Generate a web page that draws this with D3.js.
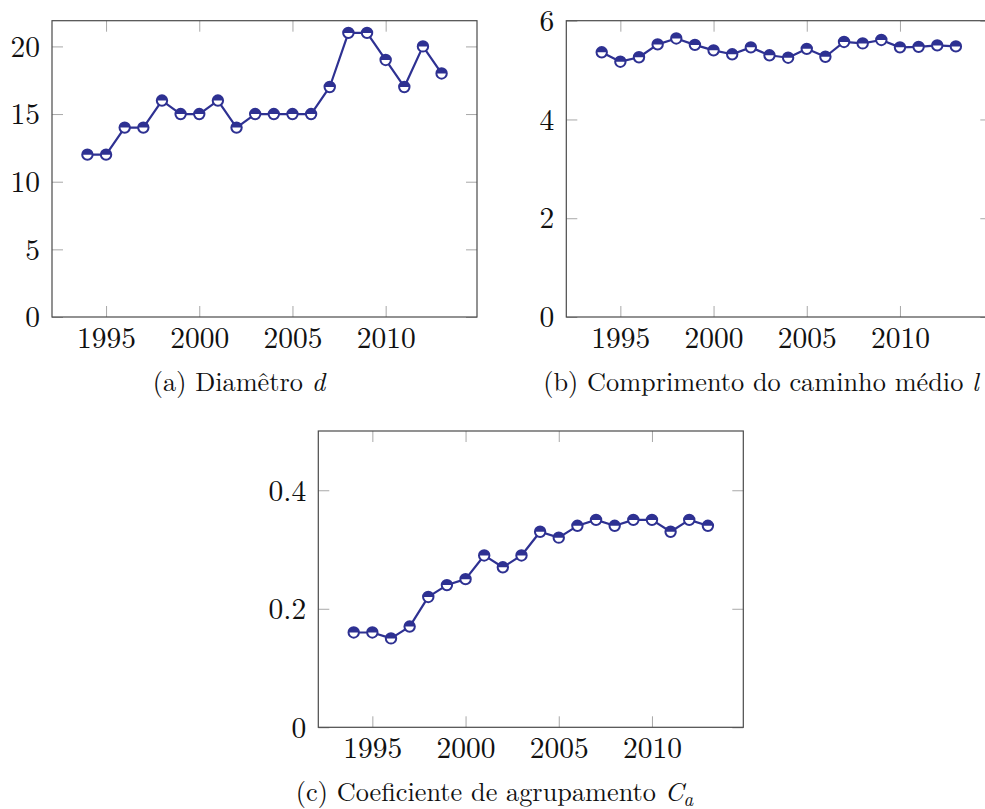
<!DOCTYPE html>
<html>
<head>
<meta charset="utf-8">
<script src="https://cdn.jsdelivr.net/npm/d3@7"></script>
<style>
  html, body { margin: 0; padding: 0; background: #fff; }
  svg { display: block; }
</style>
</head>
<body>
<svg id="chart" width="985" height="809"></svg>
<script>
// Yearly network metrics, 1994–2013
const years = [1994, 1995, 1996, 1997, 1998, 1999, 2000, 2001, 2002, 2003,
               2004, 2005, 2006, 2007, 2008, 2009, 2010, 2011, 2012, 2013];

const diameter = [12, 12, 14, 14, 16, 15, 15, 16, 14, 15,
                  15, 15, 15, 17, 21, 21, 19, 17, 20, 18];

const pathLength = [5.36, 5.17, 5.26, 5.52, 5.64, 5.51, 5.40, 5.32, 5.46, 5.30,
                    5.25, 5.43, 5.27, 5.57, 5.54, 5.61, 5.46, 5.47, 5.50, 5.48];

const clustering = [0.16, 0.16, 0.15, 0.17, 0.22, 0.24, 0.25, 0.29, 0.27, 0.29,
                    0.33, 0.32, 0.34, 0.35, 0.34, 0.35, 0.35, 0.33, 0.35, 0.34];

const xTicks = [1995, 2000, 2005, 2010];
const yTicksDiameter = [0, 5, 10, 15, 20];
const yTicksPath = [0, 2, 4, 6];
const yTicksClustering = [0, 0.2, 0.4];

const xDomain = [1992.1, 2014.9];

const FONT = '"Latin Modern Roman", "CMU Serif", "Liberation Serif", serif';
const svg = d3.select("#chart");
const lineColor = "#2e3192";
const frameColor = "#4a4a4a";
const tickColor = "#a8a8a8";
const tickLen = 11;
const tickFont = 29.5;

function drawPanel(opts) {
  const { left, top, width, height, values, yDomain, yTicks, yFormat } = opts;
  const g = svg.append("g").attr("transform", `translate(${left},${top})`);

  const x = d3.scaleLinear().domain(xDomain).range([0, width]);
  const y = d3.scaleLinear().domain(yDomain).range([height, 0]);

  // inward ticks on all four sides
  const bottom = g.append("g").attr("transform", `translate(0,${height})`)
    .call(d3.axisBottom(x).tickValues(xTicks).tickFormat(d3.format("d"))
      .tickSize(-tickLen).tickPadding(10));
  const topAx = g.append("g")
    .call(d3.axisTop(x).tickValues(xTicks).tickFormat("").tickSize(-tickLen));
  const leftAx = g.append("g")
    .call(d3.axisLeft(y).tickValues(yTicks).tickFormat(yFormat)
      .tickSize(-tickLen).tickPadding(12));
  const rightAx = g.append("g").attr("transform", `translate(${width},0)`)
    .call(d3.axisRight(y).tickValues(yTicks).tickFormat("").tickSize(-tickLen));

  [bottom, topAx, leftAx, rightAx].forEach(a => {
    a.attr("font-family", null).attr("font-size", null);
    a.select(".domain").remove();
    a.selectAll(".tick line").attr("stroke", tickColor).attr("stroke-width", 1);
    a.selectAll("text")
      .style("font-family", FONT)
      .style("font-size", tickFont + "px")
      .attr("fill", "#111");
  });
  bottom.selectAll(".tick text").attr("y", 31).attr("dy", 0);
  leftAx.selectAll(".tick text").attr("dy", "0.33em");

  // frame
  g.append("rect")
    .attr("x", 0).attr("y", 0).attr("width", width).attr("height", height)
    .attr("fill", "none").attr("stroke", frameColor).attr("stroke-width", 1.2);

  const pts = years.map((yr, i) => [yr, values[i]]);

  g.append("path")
    .datum(pts)
    .attr("fill", "none")
    .attr("stroke", lineColor)
    .attr("stroke-width", 2.2)
    .attr("stroke-linejoin", "round")
    .attr("d", d3.line().x(d => x(d[0])).y(d => y(d[1])));

  // half-filled circle markers: upper half solid, lower half white
  const r = 5.2;
  const marks = g.selectAll(".mark").data(pts).join("g")
    .attr("class", "mark")
    .attr("transform", d => `translate(${x(d[0])},${y(d[1])})`);
  marks.append("circle").attr("r", r).attr("fill", "#fff");
  marks.append("path")
    .attr("d", `M${-r},0 A${r},${r} 0 0 1 ${r},0 Z`)
    .attr("fill", lineColor);
  marks.append("circle").attr("r", r)
    .attr("fill", "none").attr("stroke", lineColor).attr("stroke-width", 2);

  return g;
}

function caption(cx, baseline, parts) {
  const t = svg.append("text")
    .attr("x", cx).attr("y", baseline)
    .attr("text-anchor", "middle")
    .attr("fill", "#111")
    .style("font-family", FONT)
    .style("font-size", "26.3px");
  parts.forEach(p => {
    const s = t.append("tspan").text(p.text);
    if (p.italic) s.style("font-style", "italic");
    if (p.sub) s.style("font-size", "19px").attr("dy", 5);
  });
}

drawPanel({ left: 52, top: 20.7, width: 425, height: 296.3,
  values: diameter, yDomain: [0, 21.9], yTicks: yTicksDiameter, yFormat: d3.format("d") });

drawPanel({ left: 566.3, top: 20.7, width: 425, height: 296.3,
  values: pathLength, yDomain: [0, 6], yTicks: yTicksPath, yFormat: d3.format("d") });

drawPanel({ left: 318.3, top: 431, width: 425, height: 296.3,
  values: clustering, yDomain: [0, 0.5], yTicks: yTicksClustering,
  yFormat: d => d === 0 ? "0" : d3.format(".1f")(d) });

caption(239, 391, [{ text: "(a) Diamêtro " }, { text: "d", italic: true }]);
caption(761, 391, [{ text: "(b) Comprimento do caminho médio " }, { text: "l", italic: true }]);
caption(494.5, 801, [{ text: "(c) Coeficiente de agrupamento " }, { text: "C", italic: true },
  { text: "a", italic: true, sub: true }]);
</script>
</body>
</html>
